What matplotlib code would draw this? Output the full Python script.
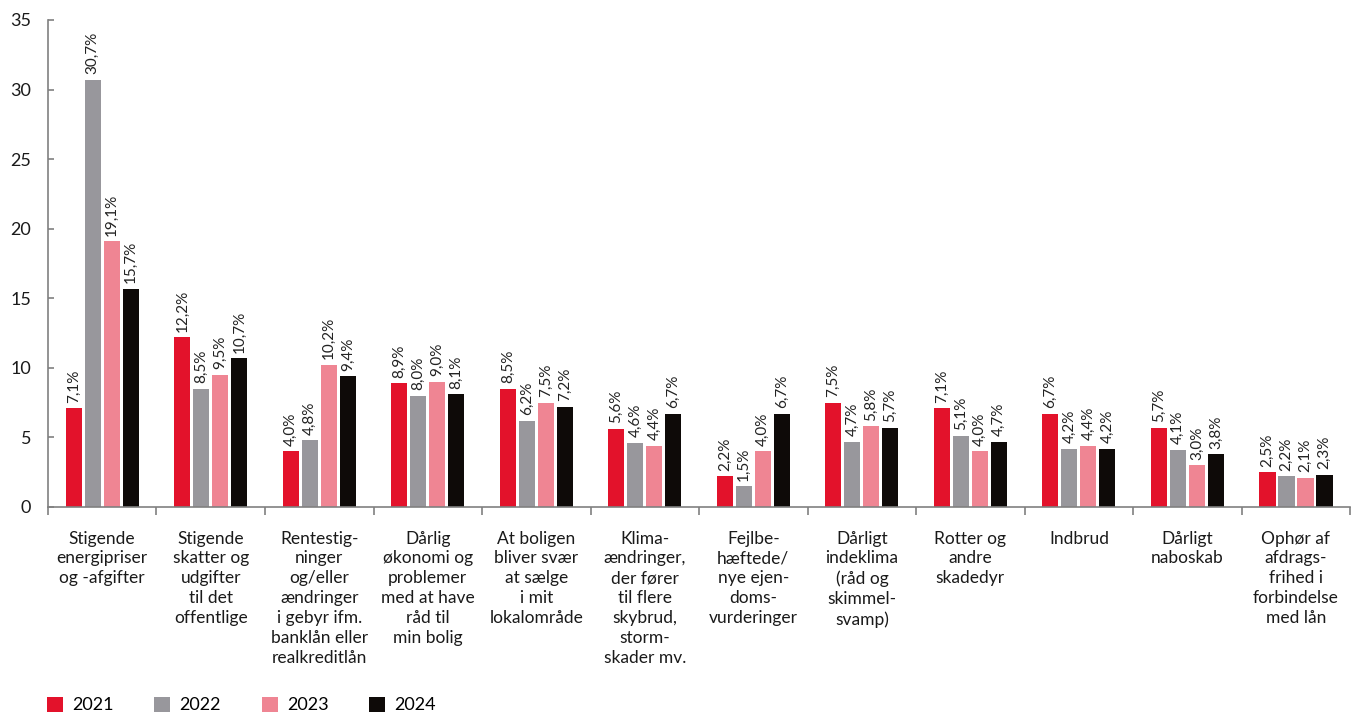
import matplotlib.pyplot as plt
import numpy as np
from matplotlib.patches import Patch

plt.rcParams['font.family'] = ['Lato', 'DejaVu Sans']

categories = [
    "Stigende\nenergipriser\nog -afgifter",
    "Stigende\nskatter og\nudgifter\ntil det\noffentlige",
    "Rentestig-\nninger\nog/eller\nændringer\ni gebyr ifm.\nbanklån eller\nrealkreditlån",
    "Dårlig\nøkonomi og\nproblemer\nmed at have\nråd til\nmin bolig",
    "At boligen\nbliver svær\nat sælge\ni mit\nlokalområde",
    "Klima-\nændringer,\nder fører\ntil flere\nskybrud,\nstorm-\nskader mv.",
    "Fejlbe-\nhæftede/\nnye ejen-\ndoms-\nvurderinger",
    "Dårligt\nindeklima\n(råd og\nskimmel-\nsvamp)",
    "Rotter og\nandre\nskadedyr",
    "Indbrud",
    "Dårligt\nnaboskab",
    "Ophør af\nafdrags-\nfrihed i\nforbindelse\nmed lån",
]

years = ["2021", "2022", "2023", "2024"]
v2021 = [7.1, 12.2, 4.0, 8.9, 8.5, 5.6, 2.2, 7.5, 7.1, 6.7, 5.7, 2.5]
v2022 = [30.7, 8.5, 4.8, 8.0, 6.2, 4.6, 1.5, 4.7, 5.1, 4.2, 4.1, 2.2]
v2023 = [19.1, 9.5, 10.2, 9.0, 7.5, 4.4, 4.0, 5.8, 4.0, 4.4, 3.0, 2.1]
v2024 = [15.7, 10.7, 9.4, 8.1, 7.2, 6.7, 6.7, 5.7, 4.7, 4.2, 3.8, 2.3]
series = [v2021, v2022, v2023, v2024]
colors = ["#e3122b", "#98979c", "#ef8593", "#0e0a08"]

fig = plt.figure(figsize=(13.58, 7.14), dpi=100)
ax = fig.add_axes([0.0353, 0.29, 0.959, 0.682])

x = np.arange(len(categories))
width = 0.148
step = 0.175
for i, (vals, col) in enumerate(zip(series, colors)):
    pos = x + (i - 1.5) * step
    ax.bar(pos, vals, width=width, color=col, zorder=2)
    for px, v in zip(pos, vals):
        ax.annotate(f"{v:.1f}%".replace(".", ","), (px, v), xytext=(0, 4),
                    textcoords="offset points", rotation=90, ha="center",
                    va="bottom", fontsize=11, color="#222222")

ax.set_xlim(-0.5, len(categories) - 0.5)
ax.set_ylim(0, 35)
ax.set_yticks(range(0, 36, 5))

for side in ["top", "right"]:
    ax.spines[side].set_visible(False)
for side in ["left", "bottom"]:
    ax.spines[side].set_color("#808080")
    ax.spines[side].set_linewidth(1.2)

ax.tick_params(axis="y", direction="in", length=4, width=1.2, color="#808080",
               labelsize=13, pad=12, labelcolor="#1a1a1a")

# category boundaries carry the ticks, labels sit centred in between
ax.set_xticks(np.arange(len(categories) + 1) - 0.5)
ax.set_xticklabels([])
ax.tick_params(axis="x", direction="out", length=6, width=1.2, color="#808080")
ax.set_xticks(x, minor=True)
ax.set_xticklabels(categories, minor=True, fontsize=12.5, color="#1a1a1a",
                   linespacing=1.3, va="top", ha="center")
ax.tick_params(axis="x", which="minor", length=0, pad=17)

handles = [Patch(facecolor=c, label=y) for c, y in zip(colors, years)]
fig.legend(handles=handles, loc="lower left", bbox_to_anchor=(0.0225, -0.022),
           ncol=4, frameon=False, fontsize=13, handlelength=0.9,
           handleheight=0.9, handletextpad=0.5, columnspacing=2.25)

fig.savefig("out.png", dpi=100)
